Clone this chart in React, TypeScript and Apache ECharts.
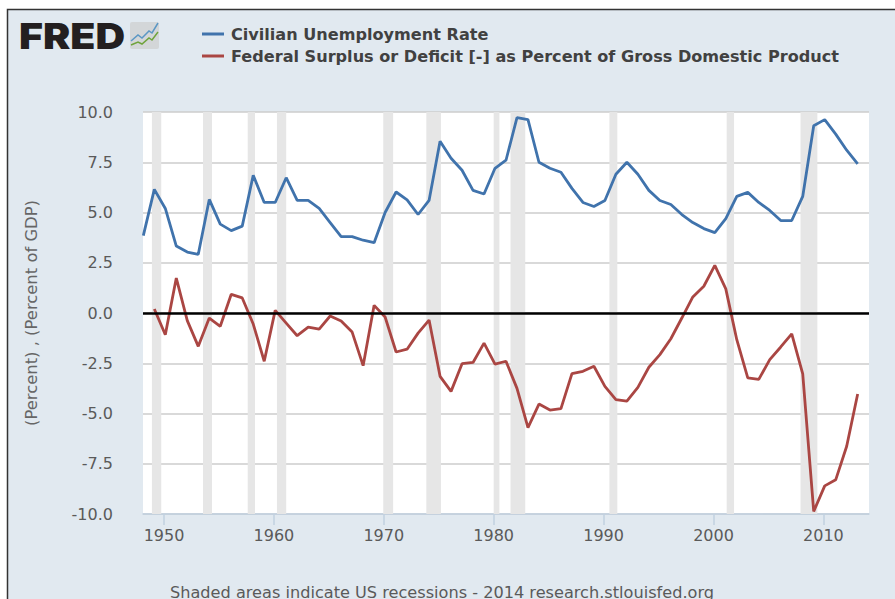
import React, { useEffect, useRef } from "react";
import * as echarts from "echarts";

const unemploymentStart = 1948;
const unemployment = [3.85, 6.15, 5.2, 3.33, 3.03, 2.92, 5.65, 4.42, 4.1, 4.32, 6.85, 5.5, 5.5, 6.73, 5.6, 5.6, 5.2, 4.5, 3.8, 3.8, 3.62, 3.5, 5.0, 6.02, 5.63, 4.9, 5.6, 8.55, 7.7, 7.1, 6.1, 5.92, 7.2, 7.6, 9.72, 9.62, 7.5, 7.2, 7.0, 6.2, 5.5, 5.3, 5.6, 6.9, 7.5, 6.9, 6.1, 5.6, 5.4, 4.9, 4.5, 4.2, 4.0, 4.7, 5.8, 6.0, 5.5, 5.1, 4.6, 4.6, 5.8, 9.32, 9.62, 8.9, 8.1, 7.42];
const surplusStart = 1949;
const surplus = [0.2, -1.08, 1.74, -0.38, -1.66, -0.25, -0.66, 0.93, 0.75, -0.55, -2.4, 0.13, -0.5, -1.13, -0.7, -0.8, -0.15, -0.4, -0.95, -2.62, 0.38, -0.2, -1.94, -1.8, -1.0, -0.35, -3.15, -3.9, -2.52, -2.46, -1.5, -2.54, -2.4, -3.75, -5.7, -4.53, -4.83, -4.76, -3.02, -2.9, -2.65, -3.65, -4.31, -4.38, -3.7, -2.7, -2.07, -1.28, -0.25, 0.8, 1.33, 2.37, 1.2, -1.33, -3.23, -3.3, -2.32, -1.69, -1.04, -3.03, -9.87, -8.6, -8.3, -6.63, -4.03];
const recessions: [number, number][] = [[1948.9, 1949.75], [1953.55, 1954.37], [1957.62, 1958.28], [1960.28, 1961.12], [1969.95, 1970.85], [1973.87, 1975.2], [1980.0, 1980.52], [1981.53, 1982.87], [1990.53, 1991.25], [2001.2, 2001.87], [2007.92, 2009.45]];
const xTicks = [1950, 1960, 1970, 1980, 1990, 2000, 2010];
const seriesNames = ["Civilian Unemployment Rate", "Federal Surplus or Deficit [-] as Percent of Gross Domestic Product"];
const yTitle = "(Percent) , (Percent of GDP)";
const footer = "Shaded areas indicate US recessions - 2014 research.stlouisfed.org";
const pointOffset = 0.12;
const iconLineA = [[131, 41], [138, 35], [142, 38], [149, 31], [152, 33], [158, 23]];
const iconLineB = [[131, 45], [138, 42], [142, 44], [149, 38], [152, 40], [158, 32]];

const FONT = "'DejaVu Sans', Verdana, sans-serif";

const toPoints = (start: number, values: number[]) =>
  values.map((v, i) => [start + i + pointOffset, v]);

export default function App() {
  const ref = useRef<HTMLDivElement>(null);
  useEffect(() => {
    document.body.style.margin = "0";
    const chart = echarts.init(ref.current!, null, { renderer: "svg" });
    chart.setOption({
      animation: false,
      backgroundColor: "#ffffff",
      textStyle: { fontFamily: FONT },
      legend: {
        left: 197,
        top: 21,
        orient: "vertical",
        itemGap: 6,
        itemWidth: 22,
        itemHeight: 3,
        icon: "rect",
        data: seriesNames,
        textStyle: { fontFamily: FONT, fontSize: 16.1, fontWeight: "bold", color: "#414141", padding: [0, 0, 0, 2] },
      },
      grid: { left: 143, right: 26, top: 112, bottom: 85, show: true, backgroundColor: "#ffffff", borderWidth: 0 },
      xAxis: {
        type: "value",
        min: 1948.09,
        max: 2014.15,
        splitLine: { show: false },
        axisLine: { show: true, onZero: false, lineStyle: { color: "#c0d0e0", width: 1.5 } },
        axisTick: { show: true, length: 11, customValues: xTicks, lineStyle: { color: "#c0d0e0", width: 1.5 } },
        axisLabel: {
          customValues: xTicks,
          formatter: (v: number) => String(v),
          fontFamily: FONT,
          fontSize: 16,
          color: "#5a5a5a",
          margin: 13,
        },
      },
      yAxis: {
        type: "value",
        min: -10,
        max: 10,
        interval: 2.5,
        name: yTitle,
        nameLocation: "middle",
        nameGap: 104,
        nameTextStyle: { fontFamily: FONT, fontSize: 16.4, color: "#666666" },
        axisLine: { show: false },
        axisTick: { show: false },
        splitLine: { show: true, lineStyle: { color: "#cccccc", width: 1.5 } },
        axisLabel: {
          formatter: (v: number) => v.toFixed(1),
          fontFamily: FONT,
          fontSize: 16,
          color: "#5a5a5a",
          margin: 30,
        },
      },
      series: [
        {
          name: seriesNames[0],
          type: "line",
          data: toPoints(unemploymentStart, unemployment),
          showSymbol: false,
          lineStyle: { color: "#4073ac", width: 2.8 },
          itemStyle: { color: "#4073ac" },
          markArea: {
            silent: true,
            itemStyle: { color: "#e6e6e6" },
            data: recessions.map(([a, b]) => [{ xAxis: a }, { xAxis: b }]),
          },
        },
        {
          name: seriesNames[1],
          type: "line",
          data: toPoints(surplusStart, surplus),
          showSymbol: false,
          lineStyle: { color: "#aa4643", width: 2.8 },
          itemStyle: { color: "#aa4643" },
          markLine: {
            silent: true,
            symbol: "none",
            label: { show: false },
            lineStyle: { color: "#000000", width: 2.5, type: "solid" },
            data: [{ yAxis: 0 }],
          },
        },
      ],
      graphic: [
        { type: "rect", z: -10, silent: true, shape: { x: 7.5, y: 9.5, width: 900, height: 600 }, style: { fill: "#e1e9f0", stroke: "#333333", lineWidth: 1.5 } },
        { type: "text", x: 19, y: 17.5, scaleX: 1.08, scaleY: 0.95, z: 5, style: { text: "FRED", font: "900 38px Inter, 'Liberation Sans', sans-serif", fill: "#231f20" } },
        { type: "rect", x: 130, y: 22, z: 5, shape: { width: 29, height: 27, r: 2 }, style: { fill: "#d3d6d8" } },
        { type: "polyline", z: 6, shape: { points: iconLineA }, style: { stroke: "#5b97c4", lineWidth: 1.5, fill: "none" } },
        { type: "polyline", z: 6, shape: { points: iconLineB }, style: { stroke: "#6fa33c", lineWidth: 1.5, fill: "none" } },
        { type: "text", x: 170, y: 584, z: 5, style: { text: footer, font: `16.15px ${FONT}`, fill: "#5a5a5a" } },
      ],
    });
    return () => chart.dispose();
  }, []);
  return <div ref={ref} style={{ width: 895, height: 599 }} />;
}
